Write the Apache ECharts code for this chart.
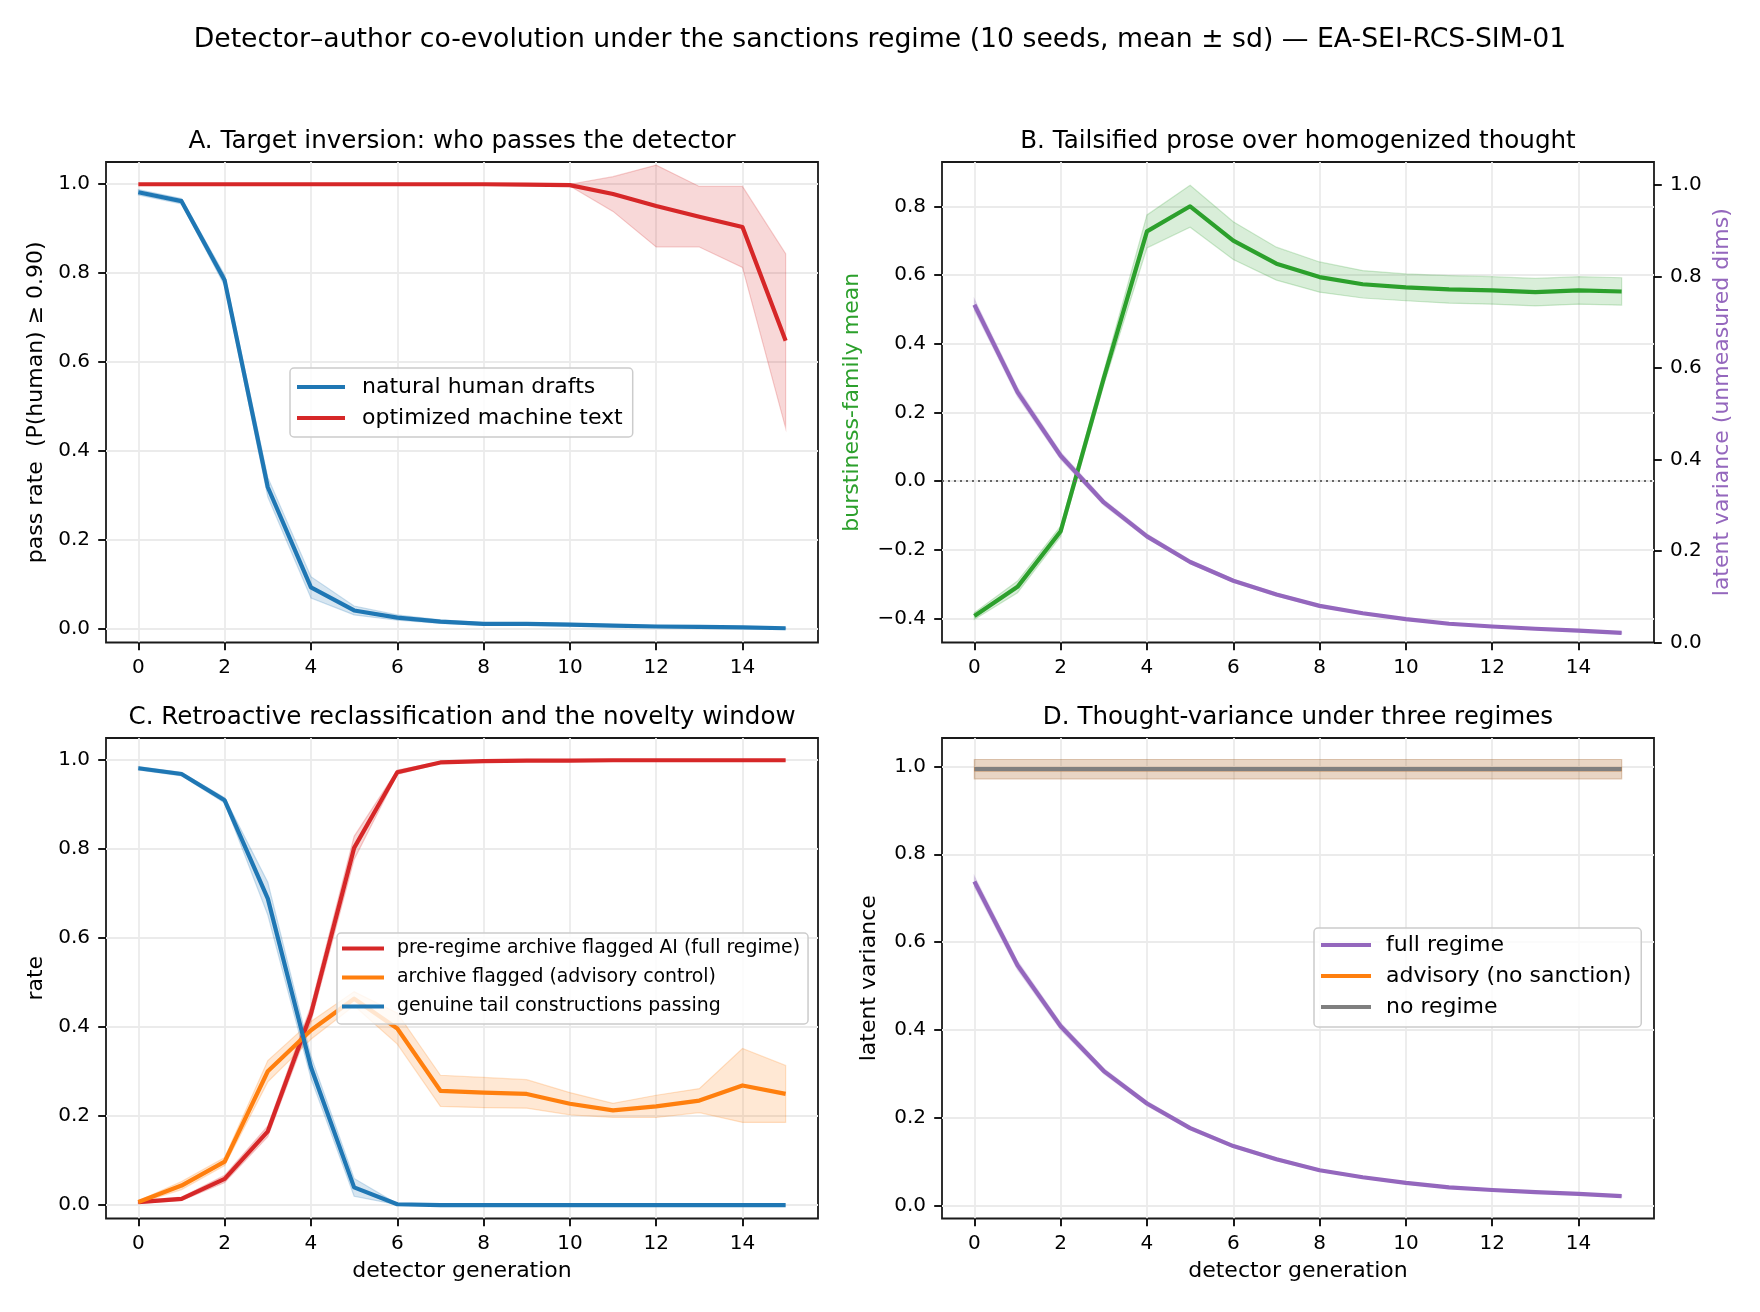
<!DOCTYPE html>
<html>
<head>
<meta charset="utf-8">
<title>Detector–author co-evolution</title>
<script src="https://cdn.jsdelivr.net/npm/echarts@6/dist/echarts.min.js"></script>
<style>
  html, body { margin: 0; padding: 0; background: #fff; }
  #main { width: 1760px; height: 1312px; }
</style>
</head>
<body>
<div id="main"></div>
<script>
// detector generations (x) and tick labels
const generations = [0, 1, 2, 3, 4, 5, 6, 7, 8, 9, 10, 11, 12, 13, 14, 15];
const genTicks = [0, 2, 4, 6, 8, 10, 12, 14];
const rateTicks = [0, 0.2, 0.4, 0.6, 0.8, 1.0];
const burstTicks = [-0.4, -0.2, 0, 0.2, 0.4, 0.6, 0.8];

// A. pass rate, mean and sd over 10 seeds
const humanPass = [0.982, 0.962, 0.784, 0.319, 0.094, 0.042, 0.026, 0.017, 0.012, 0.012, 0.010, 0.008, 0.006, 0.005, 0.004, 0.002];
const humanPassSd = [0.006, 0.006, 0.012, 0.022, 0.024, 0.010, 0.006, 0.004, 0.003, 0.003, 0.003, 0.002, 0.002, 0.002, 0.002, 0.001];
const machinePass = [1.0, 1.0, 1.0, 1.0, 1.0, 1.0, 1.0, 1.0, 1.0, 0.999, 0.998, 0.978, 0.951, 0.927, 0.904, 0.648];
const machinePassSd = [0, 0, 0, 0, 0, 0, 0, 0, 0, 0.001, 0.002, 0.039, 0.092, 0.068, 0.091, 0.196];

// B. burstiness-family mean (left) and latent variance (right)
const burstMean = [-0.393, -0.308, -0.146, 0.300, 0.727, 0.800, 0.700, 0.633, 0.594, 0.573, 0.564, 0.558, 0.555, 0.550, 0.555, 0.552];
const burstSd = [0.010, 0.017, 0.015, 0.020, 0.048, 0.061, 0.055, 0.048, 0.044, 0.040, 0.039, 0.040, 0.040, 0.040, 0.040, 0.040];
const latentVar = [0.738, 0.547, 0.408, 0.306, 0.232, 0.176, 0.135, 0.105, 0.080, 0.064, 0.051, 0.041, 0.035, 0.030, 0.026, 0.021];
const latentVarSd = [0.012, 0.010, 0.008, 0.006, 0.005, 0.004, 0.003, 0.003, 0.002, 0.002, 0.002, 0.001, 0.001, 0.001, 0.001, 0.001];

// C. archive reclassification
const archiveFull = [0.007, 0.014, 0.059, 0.166, 0.430, 0.803, 0.973, 0.995, 0.998, 0.999, 0.999, 1.0, 1.0, 1.0, 1.0, 1.0];
const archiveFullSd = [0.003, 0.004, 0.008, 0.012, 0.018, 0.026, 0.005, 0.002, 0.001, 0.001, 0, 0, 0, 0, 0, 0];
const archiveAdvisory = [0.007, 0.044, 0.098, 0.301, 0.393, 0.464, 0.397, 0.257, 0.253, 0.250, 0.228, 0.213, 0.222, 0.235, 0.269, 0.250];
const archiveAdvisorySd = [0.003, 0.009, 0.009, 0.024, 0.020, 0.016, 0.035, 0.035, 0.034, 0.032, 0.025, 0.016, 0.025, 0.027, 0.083, 0.064];
const tailPassing = [0.982, 0.969, 0.910, 0.689, 0.310, 0.040, 0.002, 0.0, 0.0, 0.0, 0.0, 0.0, 0.0, 0.0, 0.0, 0.0];
const tailPassingSd = [0.004, 0.004, 0.006, 0.037, 0.025, 0.020, 0.001, 0, 0, 0, 0, 0, 0, 0, 0, 0];

// D. thought-variance under three regimes (full regime = latentVar)
const advisoryVar = [0.994, 0.994, 0.994, 0.994, 0.994, 0.994, 0.994, 0.994, 0.994, 0.994, 0.994, 0.994, 0.994, 0.994, 0.994, 0.994];
const advisoryVarSd = [0.022, 0.022, 0.022, 0.022, 0.022, 0.022, 0.022, 0.022, 0.022, 0.022, 0.022, 0.022, 0.022, 0.022, 0.022, 0.022];
const noRegimeVar = [0.994, 0.994, 0.994, 0.994, 0.994, 0.994, 0.994, 0.994, 0.994, 0.994, 0.994, 0.994, 0.994, 0.994, 0.994, 0.994];
const noRegimeVarSd = [0.022, 0.022, 0.022, 0.022, 0.022, 0.022, 0.022, 0.022, 0.022, 0.022, 0.022, 0.022, 0.022, 0.022, 0.022, 0.022];

const FONT = 'DejaVu Sans';
const C_BLUE = '#1f77b4', C_ORANGE = '#ff7f0e', C_GREEN = '#2ca02c',
      C_RED = '#d62728', C_PURPLE = '#9467bd', C_GRAY = '#7f7f7f';

function pairs(vals) {
  return generations.map((g, i) => [g, vals[i]]);
}

function rgba(hex, a) {
  const n = parseInt(hex.slice(1), 16);
  return 'rgba(' + (n >> 16 & 255) + ',' + (n >> 8 & 255) + ',' + (n & 255) + ',' + a + ')';
}

// mean line
function meanLine(name, vals, color, xi, yi) {
  return {
    type: 'line', name: name, xAxisIndex: xi, yAxisIndex: yi,
    data: pairs(vals), symbol: 'none', silent: true,
    itemStyle: { color: color },
    lineStyle: { color: color, width: 4.2, join: 'round' }
  };
}

// mean ± sd band, drawn once as a polygon through the axis coords
function sdBand(id, vals, sd, color, xi, yi) {
  const rows = generations.map((g, i) => [g, vals[i] - sd[i], vals[i] + sd[i]]);
  return {
    type: 'custom', name: id, xAxisIndex: xi, yAxisIndex: yi,
    coordinateSystem: 'cartesian2d', silent: true, clip: true,
    encode: { x: 0, y: [1, 2] },
    data: rows,
    renderItem: function (params, api) {
      if (params.dataIndex !== 0) return null;
      const upper = rows.map(r => api.coord([r[0], r[2]]));
      const lower = rows.map(r => api.coord([r[0], r[1]])).reverse();
      return {
        type: 'polygon',
        shape: { points: upper.concat(lower) },
        style: { fill: rgba(color, 0.18), stroke: rgba(color, 0.22), lineWidth: 1.2 }
      };
    }
  };
}

const fmt1 = v => (v < 0 ? '\u2212' : '') + Math.abs(v).toFixed(1);

function genAxis(gi, showName) {
  return {
    type: 'value', gridIndex: gi, min: -0.75, max: 15.75,
    axisLine: { show: false, onZero: false },
    axisTick: { customValues: genTicks, length: 7.8, lineStyle: { color: '#000', width: 1.8 } },
    axisLabel: { customValues: genTicks, margin: 15, fontSize: 20, fontFamily: FONT, color: '#000' },
    splitLine: { show: true, lineStyle: { color: '#ebebeb', width: 1.8 } },
    name: showName ? 'detector generation' : '',
    nameLocation: 'middle', nameGap: 42,
    nameTextStyle: { fontSize: 22, fontFamily: FONT, color: '#000' }
  };
}

function valAxis(gi, min, max, ticks, name, gap, color, extra) {
  return Object.assign({
    type: 'value', gridIndex: gi, min: min, max: max,
    axisLine: { show: false, onZero: false },
    axisTick: { customValues: ticks, length: 7.8, lineStyle: { color: '#000', width: 1.8 } },
    axisLabel: { customValues: ticks, margin: 16, fontSize: 20, fontFamily: FONT, color: '#000', formatter: fmt1 },
    splitLine: { show: true, lineStyle: { color: '#ebebeb', width: 1.8 } },
    name: name, nameLocation: 'middle', nameGap: gap, nameRotate: 90,
    nameTextStyle: { fontSize: 22, fontFamily: FONT, color: color }
  }, extra || {});
}

function panelTitle(text, cx, top) {
  return {
    text: text, left: cx, top: top, textAlign: 'center', padding: 0,
    textStyle: { fontSize: 24.6, fontWeight: 'normal', fontFamily: FONT, color: '#000', lineHeight: 24 }
  };
}

function legendBox(names, left, top, opts) {
  return {
    data: names, orient: 'vertical', left: left, top: top,
    icon: 'rect', itemWidth: opts.itemWidth, itemHeight: 4, itemGap: opts.gap,
    padding: opts.padding, selectedMode: false,
    backgroundColor: 'rgba(255,255,255,0.8)', borderColor: '#cccccc', borderWidth: 1.5, borderRadius: 4,
    itemStyle: { borderWidth: 0 },
    textStyle: { fontFamily: FONT, fontSize: opts.fontSize, lineHeight: opts.fontSize, color: '#000', padding: [0, 0, 0, opts.textGap] }
  };
}

const gridStyle = { show: true, borderColor: '#1a1a1a', borderWidth: 1.8, backgroundColor: 'transparent' };

const zeroLine = {
  silent: true, symbol: ['none', 'none'], label: { show: false },
  lineStyle: { type: [2, 4], color: '#666', width: 1.8 },
  data: [{ yAxis: 0 }]
};

const burstSeries = meanLine('burstiness-family mean', burstMean, C_GREEN, 1, 1);
burstSeries.markLine = zeroLine;

const option = {
  animation: false,
  backgroundColor: '#fff',
  title: [
    {
      text: 'Detector\u2013author co-evolution under the sanctions regime (10 seeds, mean \u00b1 sd) \u2014 EA-SEI-RCS-SIM-01',
      left: 880, top: 27, textAlign: 'center', padding: 0,
      textStyle: { fontSize: 26.7, fontWeight: 'normal', fontFamily: FONT, color: '#000', lineHeight: 26 }
    },
    panelTitle('A. Target inversion: who passes the detector', 462, 130),
    panelTitle('B. Tailsified prose over homogenized thought', 1298, 130),
    panelTitle('C. Retroactive reclassification and the novelty window', 462, 706),
    panelTitle('D. Thought-variance under three regimes', 1298, 706)
  ],
  grid: [
    Object.assign({ left: 106, top: 162, width: 712, height: 480.5 }, gridStyle),
    Object.assign({ left: 942, top: 162, width: 712, height: 480.5 }, gridStyle),
    Object.assign({ left: 106, top: 738, width: 712, height: 480.5 }, gridStyle),
    Object.assign({ left: 942, top: 738, width: 712, height: 480.5 }, gridStyle)
  ],
  xAxis: [genAxis(0, false), genAxis(1, false), genAxis(2, true), genAxis(3, true)],
  yAxis: [
    valAxis(0, -0.03, 1.05, rateTicks, 'pass rate  (P(human) \u2265 0.90)', 59, '#000'),
    valAxis(1, -0.47, 0.929, burstTicks, 'burstiness-family mean', 79, C_GREEN),
    valAxis(1, 0, 1.05, rateTicks, 'latent variance (unmeasured dims)', 57, C_PURPLE,
      { position: 'right', splitLine: { show: false } }),
    valAxis(2, -0.03, 1.05, rateTicks, 'rate', 59, '#000'),
    valAxis(3, -0.03, 1.065, rateTicks, 'latent variance', 62, '#000')
  ],
  legend: [
    legendBox(['natural human drafts', 'optimized machine text'], 290, 368,
      { itemWidth: 48, gap: 9, padding: [8, 10, 8, 7], fontSize: 22, textGap: 12 }),
    legendBox(['pre-regime archive flagged AI (full regime)', 'archive flagged (advisory control)', 'genuine tail constructions passing'], 337, 933,
      { itemWidth: 42, gap: 10, padding: [6, 8, 8, 5], fontSize: 18.9, textGap: 8 }),
    legendBox(['full regime', 'advisory (no sanction)', 'no regime'], 1314, 928,
      { itemWidth: 50, gap: 9, padding: [6, 10, 9, 7], fontSize: 22, textGap: 10 })
  ],
  series: [
    // A
    sdBand('human band', humanPass, humanPassSd, C_BLUE, 0, 0),
    meanLine('natural human drafts', humanPass, C_BLUE, 0, 0),
    sdBand('machine band', machinePass, machinePassSd, C_RED, 0, 0),
    meanLine('optimized machine text', machinePass, C_RED, 0, 0),
    // B
    sdBand('burst band', burstMean, burstSd, C_GREEN, 1, 1),
    burstSeries,
    sdBand('latent band', latentVar, latentVarSd, C_PURPLE, 1, 2),
    meanLine('latent variance (unmeasured dims)', latentVar, C_PURPLE, 1, 2),
    // C
    sdBand('full band', archiveFull, archiveFullSd, C_RED, 2, 3),
    meanLine('pre-regime archive flagged AI (full regime)', archiveFull, C_RED, 2, 3),
    sdBand('advisory band', archiveAdvisory, archiveAdvisorySd, C_ORANGE, 2, 3),
    meanLine('archive flagged (advisory control)', archiveAdvisory, C_ORANGE, 2, 3),
    sdBand('tail band', tailPassing, tailPassingSd, C_BLUE, 2, 3),
    meanLine('genuine tail constructions passing', tailPassing, C_BLUE, 2, 3),
    // D
    sdBand('full var band', latentVar, latentVarSd, C_PURPLE, 3, 4),
    meanLine('full regime', latentVar, C_PURPLE, 3, 4),
    sdBand('advisory var band', advisoryVar, advisoryVarSd, C_ORANGE, 3, 4),
    meanLine('advisory (no sanction)', advisoryVar, C_ORANGE, 3, 4),
    sdBand('no regime band', noRegimeVar, noRegimeVarSd, C_GRAY, 3, 4),
    meanLine('no regime', noRegimeVar, C_GRAY, 3, 4)
  ]
};

const chart = echarts.init(document.getElementById('main'), null, { renderer: 'canvas' });
chart.setOption(option);
</script>
</body>
</html>
